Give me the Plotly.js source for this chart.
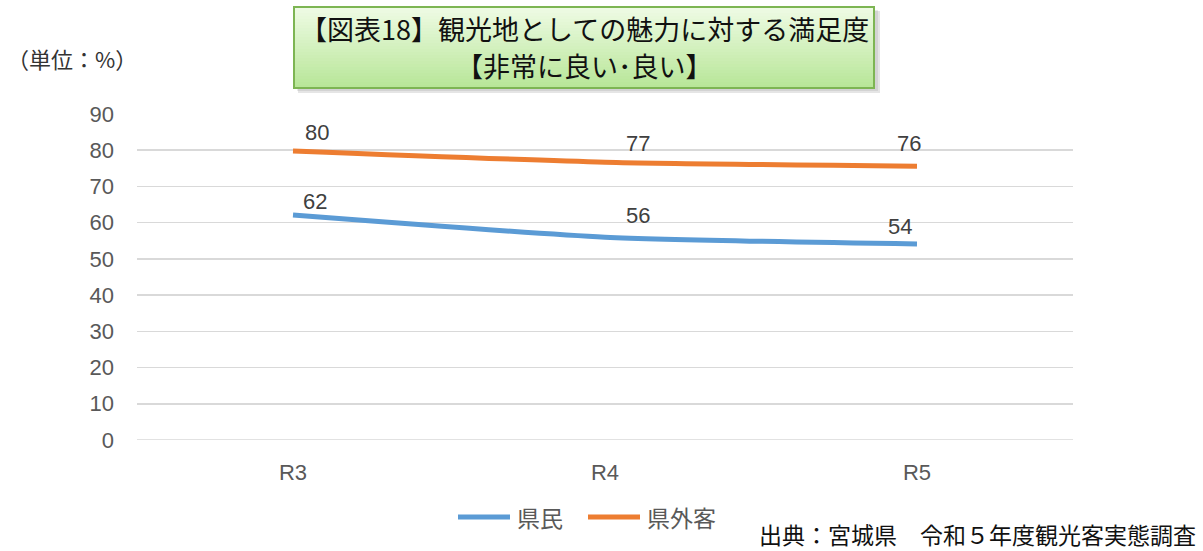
<!DOCTYPE html>
<html>
<head>
<meta charset="utf-8">
<script src="https://cdn.plot.ly/plotly-3.0.1.min.js"></script>
<style>html,body{margin:0;padding:0;background:#fff;}#chart{width:1203px;height:551px;}</style>
</head>
<body>
<div id="chart"></div>
<script>
const categories = ['R3', 'R4', 'R5'];
const kenmin = [62.1, 56.0, 54.1];
const kengaikyaku = [79.8, 76.7, 75.6];
const seriesNames = ['県民', '県外客'];
const yTicks = [0, 10, 20, 30, 40, 50, 60, 70, 80, 90];

const W = 1203, H = 551;
const M = {l: 137, r: 130, t: 114, b: 111};
const pw = W - M.l - M.r, ph = H - M.t - M.b;
const px = x => (x - M.l) / pw;
const py = y => (H - M.b - y) / ph;

const JP = '"Noto Sans CJK JP", "Noto Sans", sans-serif';
const LAT = '"Liberation Sans", Arial, sans-serif';
const colors = ['#5B9BD5', '#ED7D31'];

const traces = [
  {x: categories, y: kenmin, name: seriesNames[0], type: 'scatter', mode: 'lines',
   line: {color: colors[0], width: 5, shape: 'spline', smoothing: 0.6}},
  {x: categories, y: kengaikyaku, name: seriesNames[1], type: 'scatter', mode: 'lines',
   line: {color: colors[1], width: 5, shape: 'spline', smoothing: 0.6}}
];

// label offsets (style only)
const offK = [[22, 14], [33, 22], [-17, 18]];
const offG = [[24, 18], [33, 19], [-8, 23]];
const annotations = [];
[[kenmin, offK], [kengaikyaku, offG]].forEach(([vals, off]) => {
  vals.forEach((v, i) => {
    annotations.push({x: categories[i], y: v, xref: 'x', yref: 'y', text: String(Math.round(v)),
      showarrow: false, xshift: off[i][0], yshift: off[i][1],
      font: {family: LAT, size: 22, color: '#404040'}});
  });
});

// title
annotations.push({xref: 'paper', yref: 'paper', x: px(584), y: py(29), xanchor: 'center', yanchor: 'middle',
  text: '【図表18】観光地としての魅力に対する満足度', showarrow: false,
  font: {family: JP, size: 27, color: '#111111'}});
annotations.push({xref: 'paper', yref: 'paper', x: px(584), y: py(65), xanchor: 'center', yanchor: 'middle',
  text: '【非常に良い･良い】', showarrow: false,
  font: {family: JP, size: 27, color: '#111111'}});
// unit
annotations.push({xref: 'paper', yref: 'paper', x: px(5), y: py(58), xanchor: 'left', yanchor: 'middle',
  text: '（単位：%）', showarrow: false, font: {family: JP, size: 22, color: '#333333'}});
// source
annotations.push({xref: 'paper', yref: 'paper', x: px(1198), y: py(534), xanchor: 'right', yanchor: 'middle',
  text: '出典：宮城県　令和５年度観光客実態調査', showarrow: false, font: {family: JP, size: 23, color: '#111111'}});

const shapes = [];
shapes.push({type: 'line', xref: 'paper', yref: 'y', x0: 0, x1: 1, y0: 0, y1: 0, line: {color: '#D9D9D9', width: 1.5}, layer: 'below'});
// custom legend (line samples + names)
const legLine = [[458, 510], [588, 640]];
const legText = [515, 645];
seriesNames.forEach((nm, i) => {
  shapes.push({type: 'line', xref: 'paper', yref: 'paper', x0: px(legLine[i][0]), x1: px(legLine[i][1]),
    y0: py(517), y1: py(517), line: {color: colors[i], width: 5}});
  annotations.push({xref: 'paper', yref: 'paper', x: px(legText[i]), y: py(517), xanchor: 'left', yanchor: 'middle',
    text: nm, showarrow: false, font: {family: JP, size: 23, color: '#595959'}});
});
// shadow
shapes.push({type: 'rect', xref: 'paper', yref: 'paper', x0: px(298), x1: px(880), y0: py(11), y1: py(93),
  fillcolor: 'rgba(0,0,0,0.10)', line: {width: 0}, layer: 'above'});
shapes.push({type: 'rect', xref: 'paper', yref: 'paper', x0: px(297), x1: px(878), y0: py(10), y1: py(91),
  fillcolor: 'rgba(0,0,0,0.08)', line: {width: 0}, layer: 'above'});
// gradient box
const boxTop = 7, boxBot = 88, nStrips = 27;
const c0 = [238, 251, 228], c1 = [184, 230, 152];
for (let i = 0; i < nStrips; i++) {
  const t = i / (nStrips - 1);
  const c = c0.map((a, k) => Math.round(a + (c1[k] - a) * t));
  const y0 = boxTop + (boxBot - boxTop) * i / nStrips, y1 = boxTop + (boxBot - boxTop) * (i + 1) / nStrips + 0.5;
  shapes.push({type: 'rect', xref: 'paper', yref: 'paper', x0: px(294), x1: px(874), y0: py(y0), y1: py(y1),
    fillcolor: `rgb(${c[0]},${c[1]},${c[2]})`, line: {width: 0}, layer: 'above'});
}
shapes.push({type: 'rect', xref: 'paper', yref: 'paper', x0: px(294), x1: px(874), y0: py(boxTop), y1: py(boxBot),
  fillcolor: 'rgba(0,0,0,0)', line: {color: '#7DB553', width: 2}, layer: 'above'});

const layout = {
  width: W, height: H, margin: M, paper_bgcolor: '#ffffff', plot_bgcolor: '#ffffff',
  showlegend: false,
  xaxis: {type: 'category', range: [-0.5, 2.5], showgrid: false, zeroline: false, showline: false,
    ticks: '', tickfont: {family: LAT, size: 22, color: '#595959'}, ticklabelstandoff: 17, fixedrange: true},
  yaxis: {range: [0, 90], tickvals: yTicks, ticktext: yTicks.map(String), showgrid: true, gridcolor: '#D9D9D9', gridwidth: 1.5,
    zeroline: false, showline: false, ticks: '', tickfont: {family: LAT, size: 22, color: '#595959'},
    ticklabelstandoff: 22, fixedrange: true},
  annotations: annotations, shapes: shapes
};

Plotly.newPlot('chart', traces, layout, {displayModeBar: false, staticPlot: true});
</script>
</body>
</html>
